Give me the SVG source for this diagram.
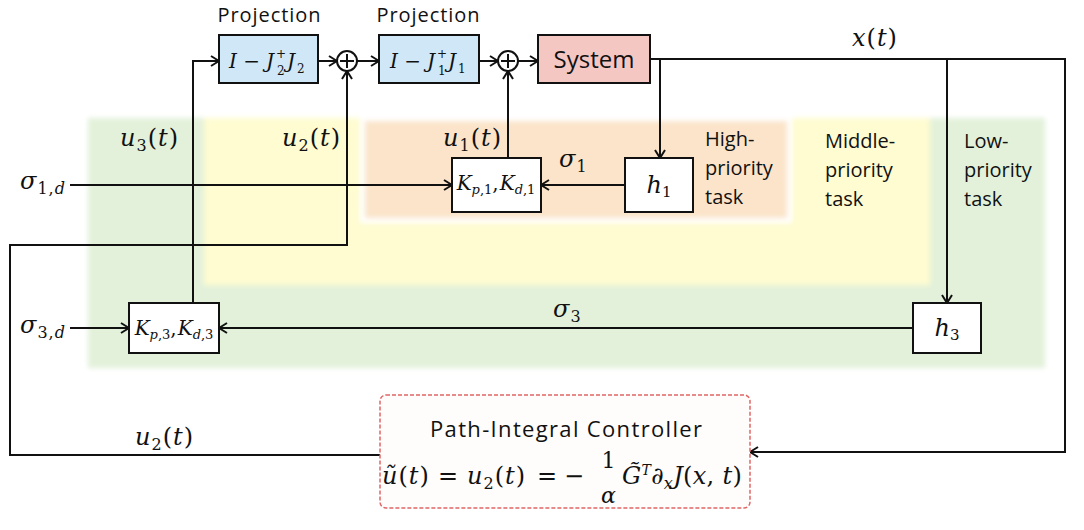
<svg xmlns="http://www.w3.org/2000/svg" width="1084" height="530" viewBox="0 0 1084 530">
<style>
.sans{font-family:"Open Sans","Noto Sans","Liberation Sans",sans-serif;fill:#111}
.m{font-family:"DejaVu Serif","Liberation Serif",serif;font-size:24px;letter-spacing:1px;fill:#111}
.b{font-size:20px;letter-spacing:0}
.k{font-size:20px;letter-spacing:0}
.h{font-size:24px;letter-spacing:0}
.i{font-style:italic}
.s{font-size:16px}
.ks{font-size:12px}
.ks2{font-size:13px}
.box{fill:#fff;stroke:#111;stroke-width:2}
.blue{fill:#cfe7f6;stroke:#111;stroke-width:2}
.pink{fill:#f5c7c3;stroke:#111;stroke-width:2}
.wire{fill:none;stroke:#111;stroke-width:2}
.arr{fill:none;stroke:#111;stroke-width:2;marker-end:url(#ah)}
</style>
<defs>
<marker id="ah" viewBox="0 0 12 12" refX="11" refY="6" markerWidth="12" markerHeight="12" markerUnits="userSpaceOnUse" orient="auto">
<path d="M3,1 L11,6 L3,11" fill="none" stroke="#111" stroke-width="2"/>
</marker>
<filter id="soft" x="-5%" y="-5%" width="110%" height="110%"><feGaussianBlur stdDeviation="2.5"/></filter>
</defs>
<rect width="1084" height="530" fill="#fff"/>
<g id="regions" filter="url(#soft)">
<rect x="88" y="118" width="957" height="250" fill="#e3f1da"/>
<rect x="204" y="118" width="726" height="167" fill="#fefcd0"/>
<rect x="360" y="116" width="432" height="107" fill="#fff"/>
<rect x="365" y="121" width="422" height="97" fill="#fbe4c9"/>
</g>
<g id="connectors">
<path class="arr" d="M193,303 V61 H219"/>
<path class="arr" d="M318,61 H337"/>
<path class="arr" d="M357,61 H379"/>
<path class="arr" d="M479,61 H498"/>
<path class="arr" d="M518,61 H538"/>
<path class="arr" d="M650,59 H1065 V452 H750"/>
<path class="arr" d="M660,59 V158"/>
<path class="arr" d="M947,59 V303"/>
<path class="arr" d="M625,185 H541"/>
<path class="arr" d="M913,328 H219"/>
<path class="arr" d="M70,185 H452"/>
<path class="arr" d="M70,328 H129"/>
<path class="arr" d="M508,158 V71"/>
<path class="arr" d="M380,455 H10 V245 H347 V71"/>
</g>
<g id="proj2">
<rect class="blue" x="219" y="35" width="99" height="48"/>
<text class="sans" x="269" y="22" font-size="20" text-anchor="middle" textLength="103">Projection</text>
<text class="m b" x="229" y="68"><tspan class="i">I</tspan> −</text>
<text class="m b i" x="266" y="68">J</text>
<text class="m ks" x="276" y="58">+</text>
<text class="m ks" x="277" y="75">2</text>
<text class="m b i" x="287" y="68">J</text>
<text class="m ks" x="297" y="73">2</text>
</g>
<g id="sum1">
<circle cx="347" cy="61" r="10" fill="#fff" stroke="#111" stroke-width="2"/>
<path class="wire" d="M340,61 H354 M347,54 V68" stroke-width="1.5"/>
</g>
<g id="proj1">
<rect class="blue" x="379" y="35" width="100" height="48"/>
<text class="sans" x="428" y="22" font-size="20" text-anchor="middle" textLength="103">Projection</text>
<text class="m b" x="390" y="68"><tspan class="i">I</tspan> −</text>
<text class="m b i" x="427" y="68">J</text>
<text class="m ks" x="437" y="58">+</text>
<text class="m ks" x="438" y="75">1</text>
<text class="m b i" x="448" y="68">J</text>
<text class="m ks" x="458" y="73">1</text>
</g>
<g id="sum2">
<circle cx="508" cy="61" r="10" fill="#fff" stroke="#111" stroke-width="2"/>
<path class="wire" d="M501,61 H515 M508,54 V68" stroke-width="1.5"/>
</g>
<g id="system">
<rect class="pink" x="538" y="35" width="112" height="48"/>
<text class="sans" x="594" y="68" font-size="24" text-anchor="middle">System</text>
</g>
<g id="xlabel"><text class="m" x="852" y="46"><tspan class="i">x</tspan>(<tspan class="i">t</tspan>)</text></g>
<g id="h1">
<rect class="box" x="625" y="158" width="68" height="54"/>
<text class="m h" x="659" y="193" text-anchor="middle"><tspan class="i">h</tspan><tspan style="font-size:15px" dy="4">1</tspan></text>
</g>
<g id="kp1">
<rect class="box" x="452" y="158" width="89" height="54"/>
<text class="m k" x="496" y="190" text-anchor="middle"><tspan class="i">K</tspan><tspan class="i ks2" dy="4">p</tspan><tspan class="ks2">,1</tspan><tspan dy="-4">,</tspan><tspan class="i" dx="1">K</tspan><tspan class="i ks2" dy="4">d</tspan><tspan class="ks2">,1</tspan></text>
</g>
<g id="h3">
<rect class="box" x="913" y="303" width="68" height="50"/>
<text class="m h" x="947" y="336" text-anchor="middle"><tspan class="i">h</tspan><tspan style="font-size:15px" dy="4">3</tspan></text>
</g>
<g id="kp3">
<rect class="box" x="129" y="303" width="90" height="50"/>
<text class="m k" x="174" y="335" text-anchor="middle"><tspan class="i">K</tspan><tspan class="i ks2" dy="4">p</tspan><tspan class="ks2">,3</tspan><tspan dy="-4">,</tspan><tspan class="i" dx="1">K</tspan><tspan class="i ks2" dy="4">d</tspan><tspan class="ks2">,3</tspan></text>
</g>
<g id="labels">
<text class="m" x="120" y="146"><tspan class="i">u</tspan><tspan class="s" dy="5">3</tspan><tspan dy="-5">(</tspan><tspan class="i">t</tspan>)</text>
<text class="m" x="282" y="146"><tspan class="i">u</tspan><tspan class="s" dy="5">2</tspan><tspan dy="-5">(</tspan><tspan class="i">t</tspan>)</text>
<text class="m" x="443" y="146"><tspan class="i">u</tspan><tspan class="s" dy="5">1</tspan><tspan dy="-5">(</tspan><tspan class="i">t</tspan>)</text>
<text class="m" x="135" y="445"><tspan class="i">u</tspan><tspan class="s" dy="5">2</tspan><tspan dy="-5">(</tspan><tspan class="i">t</tspan>)</text>
<text class="m" x="20" y="189"><tspan class="i">σ</tspan><tspan class="s" dy="5">1,</tspan><tspan class="s i">d</tspan></text>
<text class="m" x="20" y="333"><tspan class="i">σ</tspan><tspan class="s" dy="5">3,</tspan><tspan class="s i">d</tspan></text>
<text class="m" x="559" y="167"><tspan class="i">σ</tspan><tspan class="s" dy="5">1</tspan></text>
<text class="m" x="553" y="317"><tspan class="i">σ</tspan><tspan class="s" dy="5">3</tspan></text>
</g>
<g id="high">
<text class="sans" font-size="20"><tspan x="705" y="146">High-</tspan><tspan x="705" y="175">priority</tspan><tspan x="705" y="204">task</tspan></text>
</g>
<g id="middle">
<text class="sans" font-size="20"><tspan x="825" y="148">Middle-</tspan><tspan x="825" y="177">priority</tspan><tspan x="825" y="206">task</tspan></text>
</g>
<g id="low">
<text class="sans" font-size="20"><tspan x="964" y="148">Low-</tspan><tspan x="964" y="177">priority</tspan><tspan x="964" y="206">task</tspan></text>
</g>
<g id="pi">
<rect x="380" y="395" width="370" height="113" rx="6" fill="#fffdfb" stroke="#e06666" stroke-width="1.5" stroke-dasharray="4 2"/>
<text class="sans" x="566" y="437" font-size="22" text-anchor="middle" textLength="272">Path-Integral Controller</text>
<text class="m" x="382" y="484"><tspan class="i">ũ</tspan>(<tspan class="i">t</tspan>)</text>
<text class="m" x="438" y="484">=</text>
<text class="m" x="467" y="484"><tspan class="i">u</tspan><tspan class="s" dy="5">2</tspan><tspan dy="-5">(</tspan><tspan class="i">t</tspan>)</text>
<text class="m" x="537" y="484">=</text>
<text class="m" x="564" y="484">−</text>
<text class="m" x="609" y="468" style="font-size:22px" text-anchor="middle">1</text>
<text class="m i" x="609" y="503" style="font-size:22px" text-anchor="middle">α</text>
<text class="m" x="622" y="484" style="letter-spacing:0.3px"><tspan class="i">G̃</tspan><tspan class="i" style="font-size:14px" dy="-9">T</tspan><tspan dy="9">∂</tspan><tspan class="s i" dy="5">x</tspan><tspan class="i" dy="-5">J</tspan>(<tspan class="i">x</tspan>, <tspan class="i">t</tspan>)</text>
</g>
</svg>
